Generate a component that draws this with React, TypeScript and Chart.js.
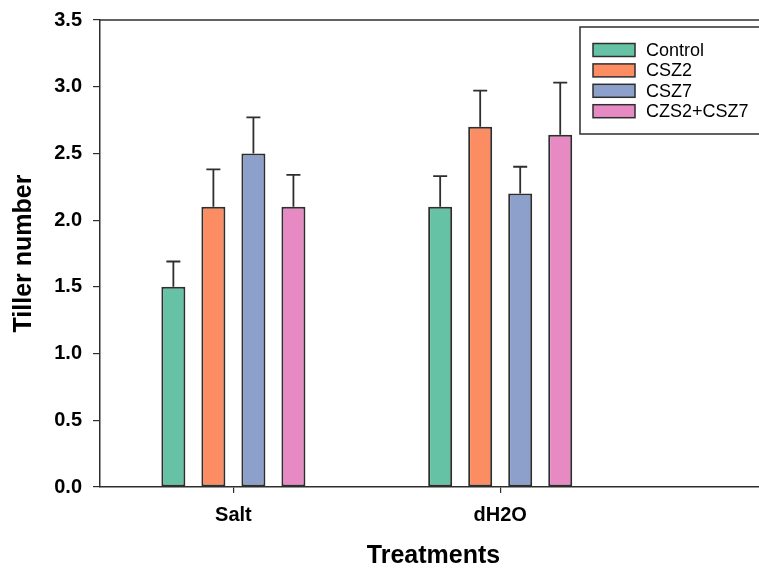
import React, { useEffect, useRef } from "react";
import { Chart, registerables } from "chart.js";

Chart.register(...registerables);

const categories = ["Salt", "dH2O"];
const categoryPositions = [1, 2];
const seriesNames = ["Control", "CSZ2", "CSZ7", "CZS2+CSZ7"];
const seriesColors = ["#66c2a5", "#fc8d62", "#8da0cb", "#e78ac3"];
const controlMeans = [1.5, 2.1];
const controlErrors = [0.19, 0.23];
const csz2Means = [2.1, 2.7];
const csz2Errors = [0.28, 0.27];
const csz7Means = [2.5, 2.2];
const csz7Errors = [0.27, 0.2];
const comboMeans = [2.1, 2.64];
const comboErrors = [0.24, 0.39];
const yTicks = [0, 0.5, 1.0, 1.5, 2.0, 2.5, 3.0, 3.5];

const allMeans = [controlMeans, csz2Means, csz7Means, comboMeans];
const allErrors = [controlErrors, csz2Errors, csz7Errors, comboErrors];

const FONT = "'Liberation Sans', Arial, Helvetica, sans-serif";
const INK = "#2e2e2e";

const errorBarPlugin = {
  id: "errorBars",
  afterDatasetsDraw(chart: any) {
    const ctx = chart.ctx;
    const yScale = chart.scales.y;
    ctx.save();
    ctx.strokeStyle = INK;
    ctx.lineWidth = 1.8;
    chart.data.datasets.forEach((ds: any, di: number) => {
      const meta = chart.getDatasetMeta(di);
      meta.data.forEach((el: any, i: number) => {
        const err = allErrors[di][i];
        const top = yScale.getPixelForValue(allMeans[di][i] + err);
        ctx.beginPath();
        ctx.moveTo(el.x, el.y);
        ctx.lineTo(el.x, top);
        ctx.moveTo(el.x - 7, top);
        ctx.lineTo(el.x + 7, top);
        ctx.stroke();
      });
    });
    ctx.restore();
  },
};

const framePlugin = {
  id: "frameAndLegend",
  afterDraw(chart: any) {
    const ctx = chart.ctx;
    const { left, right, top } = chart.chartArea;
    ctx.save();
    ctx.strokeStyle = INK;
    ctx.lineWidth = 1.5;
    ctx.beginPath();
    ctx.moveTo(left, top);
    ctx.lineTo(right, top);
    ctx.stroke();

    // legend box
    const bx = 580;
    const by = 27;
    ctx.fillStyle = "#ffffff";
    ctx.fillRect(bx, by, 220, 107);
    ctx.strokeRect(bx, by, 220, 107);
    ctx.font = `18px ${FONT}`;
    ctx.textBaseline = "middle";
    ctx.textAlign = "left";
    seriesNames.forEach((name, i) => {
      const cy = 50 + i * 20.4;
      ctx.fillStyle = seriesColors[i];
      ctx.fillRect(593, cy - 6.5, 42, 13);
      ctx.lineWidth = 1.5;
      ctx.strokeRect(593, cy - 6.5, 42, 13);
      ctx.fillStyle = "#000000";
      ctx.fillText(name, 646, cy + 1);
    });
    ctx.restore();
  },
};

export default function App() {
  const canvasRef = useRef<HTMLCanvasElement | null>(null);

  useEffect(() => {
    const canvas = canvasRef.current;
    if (!canvas) return;
    const chart = new Chart(canvas, {
      type: "bar",
      data: {
        datasets: seriesNames.map((name, di) => ({
          label: name,
          data: categoryPositions.map((x, i) => ({ x, y: allMeans[di][i] })),
          backgroundColor: seriesColors[di],
          borderColor: INK,
          borderWidth: 2,
          borderSkipped: false,
          categoryPercentage: 0.6,
          barPercentage: 0.6,
        })),
      },
      options: {
        responsive: false,
        animation: false,
        events: [],
        layout: { padding: { top: 20, right: 13, left: 0, bottom: 0 } },
        plugins: {
          legend: { display: false },
          tooltip: { enabled: false },
        },
        scales: {
          x: {
            type: "linear",
            min: 0.5,
            max: 3.0,
            offset: false,
            afterBuildTicks: (scale: any) => {
              scale.ticks = categoryPositions.map((v) => ({ value: v }));
            },
            afterFit: (scale: any) => {
              scale.height = 85;
              scale.paddingLeft = 0;
              scale.paddingRight = 0;
            },
            border: { display: true, color: INK, width: 1.5 },
            grid: {
              display: true,
              offset: false,
              drawOnChartArea: false,
              drawTicks: true,
              tickLength: 6,
              color: INK,
              lineWidth: 1.2,
            },
            ticks: {
              padding: 10,
              color: "#000",
              font: { family: FONT, size: 20, weight: "bold" },
              callback: (v: any) => categories[categoryPositions.indexOf(Number(v))] ?? "",
              maxRotation: 0,
              autoSkip: false,
            },
            title: {
              display: true,
              text: "Treatments",
              color: "#000",
              font: { family: FONT, size: 25, weight: "bold" },
              padding: { top: 0, bottom: 1 },
            },
          },
          y: {
            min: 0,
            max: 3.5,
            afterBuildTicks: (scale: any) => {
              scale.ticks = yTicks.map((v) => ({ value: v }));
            },
            afterFit: (scale: any) => {
              scale.width = 100;
              scale.paddingTop = 0;
              scale.paddingBottom = 0;
            },
            border: { display: true, color: INK, width: 1.5 },
            grid: {
              display: true,
              drawOnChartArea: false,
              drawTicks: true,
              tickLength: 7,
              color: INK,
              lineWidth: 1.2,
            },
            ticks: {
              padding: 11,
              color: "#000",
              font: { family: FONT, size: 20, weight: "bold" },
              callback: (v: any) => Number(v).toFixed(1),
            },
            title: {
              display: true,
              text: "Tiller number",
              color: "#000",
              font: { family: FONT, size: 25, weight: "bold" },
              padding: { top: 9, bottom: 0 },
            },
          },
        },
      },
      plugins: [errorBarPlugin, framePlugin],
    } as any);
    return () => chart.destroy();
  }, []);

  return (
    <div
      style={{
        position: "fixed",
        left: 0,
        top: 0,
        width: 759,
        height: 572,
        overflow: "hidden",
        background: "#ffffff",
      }}
    >
      <canvas ref={canvasRef} width={780} height={572} style={{ display: "block" }} />
    </div>
  );
}
